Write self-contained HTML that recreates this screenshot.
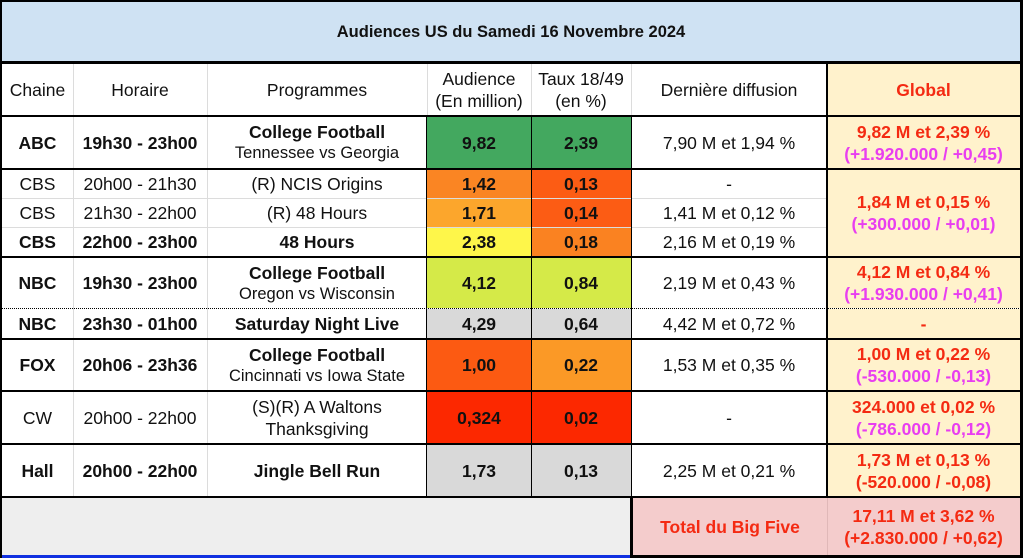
<!DOCTYPE html>
<html><head><meta charset="utf-8"><style>
*{margin:0;padding:0;box-sizing:border-box}
body{width:1023px;height:558px;background:#fff;position:relative;overflow:hidden;font-family:"Liberation Sans",Arial,sans-serif;color:#111}
.c{position:absolute;display:flex;flex-direction:column;align-items:center;justify-content:center;text-align:center;font-size:17.5px;line-height:22px;white-space:nowrap}
.b{font-weight:bold}
.s{font-size:16.5px;line-height:21px}
.l{position:absolute;background:#000}
.g{position:absolute;background:#dcdcdc}
.r{color:#f42a12;font-weight:bold}
.m{color:#e83ef0;font-weight:bold}
</style></head><body>
<div class="c b" style="left:2px;top:2px;width:1018px;height:59px;background:#cfe2f3;font-size:16.5px">Audiences US du Samedi 16 Novembre 2024</div>
<div class="c" style="left:2px;top:64px;width:71px;height:51px">Chaine</div>
<div class="c" style="left:73px;top:64px;width:134px;height:51px">Horaire</div>
<div class="c" style="left:207px;top:64px;width:220px;height:51px">Programmes</div>
<div class="c" style="left:427px;top:64px;width:104px;height:51px">Audience<br>(En million)</div>
<div class="c" style="left:531px;top:64px;width:100px;height:51px">Taux 18/49<br>(en %)</div>
<div class="c" style="left:631px;top:64px;width:196px;height:51px">Dernière diffusion</div>
<div class="c r" style="left:827px;top:64px;width:193px;height:51px;background:#fff2cc">Global</div>

<div class="c b" style="left:2px;top:117px;width:71px;height:51px">ABC</div>
<div class="c b" style="left:73px;top:117px;width:134px;height:51px">19h30 - 23h00</div>
<div class="c" style="left:207px;top:117px;width:220px;height:51px"><b>College Football</b><span class="s">Tennessee vs Georgia</span></div>
<div class="c b" style="left:427px;top:117px;width:104px;height:51px;background:#43a85f">9,82</div>
<div class="c b" style="left:531px;top:117px;width:100px;height:51px;background:#43a85f">2,39</div>
<div class="c" style="left:631px;top:117px;width:196px;height:51px">7,90 M et 1,94 %</div>
<div class="c" style="left:827px;top:117px;width:193px;height:51px;background:#fff2cc"><span class="r">9,82 M et 2,39 %</span><span class="m">(+1.920.000 / +0,45)</span></div>

<div class="c" style="left:2px;top:170px;width:71px;height:28px">CBS</div>
<div class="c" style="left:73px;top:170px;width:134px;height:28px">20h00 - 21h30</div>
<div class="c" style="left:207px;top:170px;width:220px;height:28px">(R) NCIS Origins</div>
<div class="c b" style="left:427px;top:170px;width:104px;height:28px;background:#fa8523">1,42</div>
<div class="c b" style="left:531px;top:170px;width:100px;height:28px;background:#fc5c14">0,13</div>
<div class="c" style="left:631px;top:170px;width:196px;height:28px">-</div>

<div class="c" style="left:2px;top:199px;width:71px;height:28px">CBS</div>
<div class="c" style="left:73px;top:199px;width:134px;height:28px">21h30 - 22h00</div>
<div class="c" style="left:207px;top:199px;width:220px;height:28px">(R) 48 Hours</div>
<div class="c b" style="left:427px;top:198px;width:104px;height:29px;background:#fca62c">1,71</div>
<div class="c b" style="left:531px;top:198px;width:100px;height:29px;background:#fc5c14">0,14</div>
<div class="c" style="left:631px;top:199px;width:196px;height:28px">1,41 M et 0,12 %</div>

<div class="c b" style="left:2px;top:228px;width:71px;height:28px">CBS</div>
<div class="c b" style="left:73px;top:228px;width:134px;height:28px">22h00 - 23h00</div>
<div class="c b" style="left:207px;top:228px;width:220px;height:28px">48 Hours</div>
<div class="c b" style="left:427px;top:227px;width:104px;height:29px;background:#fef64a">2,38</div>
<div class="c b" style="left:531px;top:227px;width:100px;height:29px;background:#fa8221">0,18</div>
<div class="c" style="left:631px;top:228px;width:196px;height:28px">2,16 M et 0,19 %</div>
<div class="c" style="left:827px;top:170px;width:193px;height:86px;background:#fff2cc"><span class="r">1,84 M et 0,15 %</span><span class="m">(+300.000 / +0,01)</span></div>

<div class="c b" style="left:2px;top:258px;width:71px;height:50px">NBC</div>
<div class="c b" style="left:73px;top:258px;width:134px;height:50px">19h30 - 23h00</div>
<div class="c" style="left:207px;top:258px;width:220px;height:50px"><b>College Football</b><span class="s">Oregon vs Wisconsin</span></div>
<div class="c b" style="left:427px;top:258px;width:104px;height:50px;background:#d5ea48">4,12</div>
<div class="c b" style="left:531px;top:258px;width:100px;height:50px;background:#d5ea48">0,84</div>
<div class="c" style="left:631px;top:258px;width:196px;height:50px">2,19 M et 0,43 %</div>
<div class="c" style="left:827px;top:258px;width:193px;height:50px;background:#fff2cc"><span class="r">4,12 M et 0,84 %</span><span class="m">(+1.930.000 / +0,41)</span></div>

<div class="c b" style="left:2px;top:309px;width:71px;height:29px">NBC</div>
<div class="c b" style="left:73px;top:309px;width:134px;height:29px">23h30 - 01h00</div>
<div class="c b" style="left:207px;top:309px;width:220px;height:29px">Saturday Night Live</div>
<div class="c b" style="left:427px;top:309px;width:104px;height:29px;background:#d9d9d9">4,29</div>
<div class="c b" style="left:531px;top:309px;width:100px;height:29px;background:#d9d9d9">0,64</div>
<div class="c" style="left:631px;top:309px;width:196px;height:29px">4,42 M et 0,72 %</div>
<div class="c r" style="left:827px;top:309px;width:193px;height:29px;background:#fff2cc">-</div>

<div class="c b" style="left:2px;top:340px;width:71px;height:50px">FOX</div>
<div class="c b" style="left:73px;top:340px;width:134px;height:50px">20h06 - 23h36</div>
<div class="c" style="left:207px;top:340px;width:220px;height:50px"><b>College Football</b><span class="s">Cincinnati vs Iowa State</span></div>
<div class="c b" style="left:427px;top:340px;width:104px;height:50px;background:#fc5a12">1,00</div>
<div class="c b" style="left:531px;top:340px;width:100px;height:50px;background:#fb9926">0,22</div>
<div class="c" style="left:631px;top:340px;width:196px;height:50px">1,53 M et 0,35 %</div>
<div class="c" style="left:827px;top:340px;width:193px;height:50px;background:#fff2cc"><span class="r">1,00 M et 0,22 %</span><span class="m">(-530.000 / -0,13)</span></div>

<div class="c" style="left:2px;top:392px;width:71px;height:51px">CW</div>
<div class="c" style="left:73px;top:392px;width:134px;height:51px">20h00 - 22h00</div>
<div class="c" style="left:207px;top:392px;width:220px;height:51px">(S)(R) A Waltons<br>Thanksgiving</div>
<div class="c b" style="left:427px;top:392px;width:104px;height:51px;background:#fc2800">0,324</div>
<div class="c b" style="left:531px;top:392px;width:100px;height:51px;background:#fc2800">0,02</div>
<div class="c" style="left:631px;top:392px;width:196px;height:51px">-</div>
<div class="c" style="left:827px;top:392px;width:193px;height:51px;background:#fff2cc"><span class="r">324.000 et 0,02 %</span><span class="m">(-786.000 / -0,12)</span></div>

<div class="c b" style="left:2px;top:445px;width:71px;height:51px">Hall</div>
<div class="c b" style="left:73px;top:445px;width:134px;height:51px">20h00 - 22h00</div>
<div class="c b" style="left:207px;top:445px;width:220px;height:51px">Jingle Bell Run</div>
<div class="c b" style="left:427px;top:445px;width:104px;height:51px;background:#d9d9d9">1,73</div>
<div class="c b" style="left:531px;top:445px;width:100px;height:51px;background:#d9d9d9">0,13</div>
<div class="c" style="left:631px;top:445px;width:196px;height:51px">2,25 M et 0,21 %</div>
<div class="c" style="left:827px;top:445px;width:193px;height:51px;background:#fff2cc"><span class="r">1,73 M et 0,13 %</span><span class="r">(-520.000 / -0,08)</span></div>

<div class="c" style="left:2px;top:498px;width:629px;height:58px;background:#eeeeee"></div>
<div class="c r" style="left:633px;top:498px;width:194px;height:58px;background:#f4cccc">Total du Big Five</div>
<div class="c r" style="left:827px;top:498px;width:193px;height:58px;background:#f4cccc"><span>17,11 M et 3,62 %</span><span>(+2.830.000 / +0,62)</span></div>
<div style="position:absolute;left:827px;top:498px;width:1px;height:58px;background:#e0b8b8"></div>
<div style="position:absolute;left:0;top:555px;width:631px;height:3px;background:#1030e0"></div>

<div class="g" style="left:73px;top:64px;width:1px;height:432px"></div>
<div class="g" style="left:207px;top:64px;width:1px;height:432px"></div>
<div class="g" style="left:2px;top:198px;width:825px;height:1px"></div>
<div class="g" style="left:2px;top:227px;width:825px;height:1px"></div>
<div class="g" style="left:427px;top:64px;width:1px;height:51px"></div>
<div class="g" style="left:531px;top:64px;width:1px;height:51px"></div>
<div class="g" style="left:631px;top:64px;width:1px;height:51px"></div>
<div class="l" style="left:426px;top:117px;width:1px;height:379px"></div>
<div class="l" style="left:531px;top:117px;width:1px;height:379px"></div>
<div class="l" style="left:631px;top:117px;width:1px;height:379px"></div>
<div class="l" style="left:0;top:0;width:1023px;height:2px"></div>
<div class="l" style="left:0;top:61px;width:1023px;height:3px"></div>
<div class="l" style="left:0;top:115px;width:1023px;height:2px"></div>
<div class="l" style="left:0;top:168px;width:1023px;height:2px"></div>
<div class="l" style="left:0;top:256px;width:1023px;height:2px"></div>
<div class="l" style="left:0;top:338px;width:1023px;height:2px"></div>
<div class="l" style="left:0;top:390px;width:1023px;height:2px"></div>
<div class="l" style="left:0;top:443px;width:1023px;height:2px"></div>
<div class="l" style="left:0;top:496px;width:1023px;height:2px"></div>
<div style="position:absolute;left:0;top:308px;width:1023px;height:0;border-top:1px dotted #000"></div>
<div class="l" style="left:0;top:0;width:2px;height:558px"></div>
<div class="l" style="left:1020px;top:0;width:3px;height:558px"></div>
<div class="l" style="left:826px;top:64px;width:2px;height:434px"></div>
<div class="l" style="left:630px;top:498px;width:3px;height:60px"></div>
<div class="l" style="left:631px;top:555px;width:392px;height:3px"></div>
</body></html>
